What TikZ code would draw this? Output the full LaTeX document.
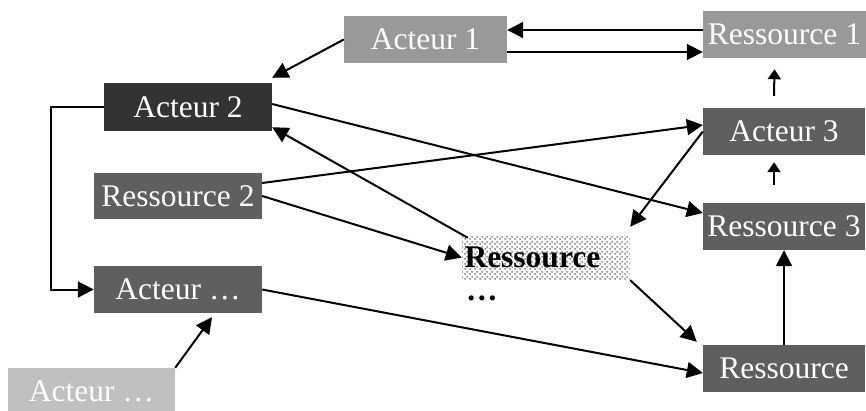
\documentclass[tikz,border=0pt]{standalone}
\usepackage{fontspec}
\setmainfont{Liberation Serif}
\usetikzlibrary{arrows.meta,patterns.meta}
\definecolor{gmid}{HTML}{999999}
\definecolor{gdark}{HTML}{333333}
\definecolor{gbox}{HTML}{5F5F5F}
\definecolor{glight}{HTML}{C0C0C0}
\tikzdeclarepattern{
  name=bigdots,
  type=uncolored,
  bounding box={(0pt,0pt) and (4.5pt,4.5pt)},
  tile size={(4.5pt,4.5pt)},
  code={\fill (1.125pt,1.125pt) circle (0.85pt); \fill (3.375pt,3.375pt) circle (0.85pt);}
}
\tikzset{
  box/.style={rectangle, inner sep=0pt, minimum height=47pt, minimum width=168pt,
    text=white, font=\fontsize{31.5}{33}\selectfont},
  arr/.style={line width=2pt, -{Triangle[length=16pt,width=16pt]}},
  sarr/.style={line width=2pt, -{Triangle[length=10pt,width=13pt]}},
}
\begin{document}
\begin{tikzpicture}[x=1pt,y=-1pt]
\useasboundingbox (0,0) rectangle (866,410);
% nodes
\node[box, fill=gmid, minimum width=163pt] (A1) at (425.5,39.5) {Acteur 1};
\node[box, fill=gmid, minimum width=163pt] (R1) at (784.5,34.5) {Ressource 1};
\node[box, fill=gdark, minimum height=48pt] (A2) at (188,107) {Acteur 2};
\node[box, fill=gbox, minimum height=46pt] (R2) at (178,196) {Ressource 2};
\node[box, fill=gbox] (Ax) at (178,289.5) {Acteur \dots};
\node[box, fill=glight, minimum width=167pt] (Ab) at (91.5,391.5) {Acteur \dots};
\node[box, fill=gbox, minimum width=162pt] (A3) at (784,131.5) {Acteur 3};
\node[box, fill=gbox, minimum width=162pt] (R3) at (784,226.5) {Ressource 3};
\node[box, fill=gbox, minimum width=162pt] (Rb) at (784,368.5) {Ressource};
\node[box, pattern={bigdots}, pattern color=black!75, minimum height=45pt, text=black,
  align=left, text width=163pt, font=\fontsize{31.5}{33}\selectfont\bfseries] (Rd) at (546,257.5) {Ressource};
\node[inner sep=0pt, font=\fontsize{31.5}{33}\selectfont\bfseries, anchor=west] (Rdd) at (466,298) {\dots};
% connectors
\draw[arr] (A1.west) -- ([yshift=5pt]A2.north east);
\path ([yshift=4.5pt]R1.west) coordinate (r1a);
\draw[arr] (r1a) -- (r1a -| A1.east);
\path ([yshift=-12.5pt]A1.east) coordinate (a1b);
\draw[arr] (a1b) -- (a1b -| R1.west);
\draw[sarr] ([xshift=-10pt,yshift=12pt]A3.north) -- ([xshift=-10pt,yshift=-11pt]R1.south);
\draw[sarr] ([xshift=-10pt,yshift=18pt]R3.north) -- ([xshift=-10pt,yshift=-7pt]A3.south);
\draw[arr] (Rb.north) -- (R3.south);
\draw[arr] ([yshift=3pt]A2.east) -- ([yshift=13.5pt]R3.west);
\draw[arr] ([xshift=6pt,yshift=-3pt]Rd.north west) -- ([yshift=4pt]A2.south east);
\draw[arr] ([yshift=13pt]R2.east) -- ([yshift=6.5pt]A3.west);
\draw[arr] (R2.east) -- (Rd.west);
\draw[arr] (A3.west) -- ([yshift=8pt]Rd.north east);
\draw[arr] (Rd.south east) -- ([xshift=-6pt,yshift=3pt]Rb.north west);
\draw[arr] (Ax.east) -- ([yshift=-4.5pt]Rb.west);
\draw[arr] (Ab.north east) -- ([xshift=34pt,yshift=-4pt]Ax.south);
\draw[arr] (A2.west) -- ++(-53pt,0) |- (Ax.west);
\end{tikzpicture}
\end{document}
